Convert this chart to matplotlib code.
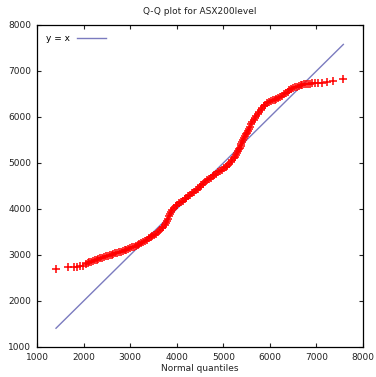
import matplotlib
matplotlib.use("Agg")
import matplotlib.pyplot as plt

# Normal quantiles (x) and sorted ASX200 levels (y)
normal_q = [
    1408, 1673, 1785, 1855, 1925, 1990, 2045, 2090, 2124,
    2160, 2200, 2240, 2280, 2320, 2360, 2400, 2440, 2480, 2520,
    2560, 2600, 2640, 2680, 2720, 2760, 2800, 2840, 2880, 2920,
    2960, 3000, 3040, 3080, 3120, 3160, 3200, 3240, 3280, 3320,
    3360, 3400, 3440, 3480, 3520, 3560, 3600, 3640, 3680, 3710,
    3740, 3765, 3790, 3810, 3830, 3850, 3875, 3905, 3940, 3975,
    4010, 4050, 4090, 4130, 4170, 4210, 4250, 4290, 4330, 4370,
    4410, 4450, 4490, 4530, 4570, 4610, 4650, 4690, 4730, 4770,
    4810, 4850, 4890, 4930, 4970, 5010, 5050, 5090, 5130, 5165,
    5195, 5220, 5245, 5268, 5290, 5310, 5330, 5350, 5370, 5390,
    5410, 5430, 5450, 5470, 5490, 5510, 5530, 5550, 5575, 5600,
    5625, 5650, 5680, 5710, 5740, 5770, 5800, 5835, 5870, 5905,
    5940, 5980, 6020, 6060, 6100, 6140, 6180, 6220, 6260, 6300,
    6340, 6380, 6420, 6460, 6500, 6540, 6580, 6620, 6660, 6700,
    6740, 6780, 6820, 6860, 6905, 6960, 7035, 7120, 7220, 7350,
    7578,
]
asx_level = [
    2696, 2735, 2745, 2748, 2752, 2760, 2800, 2825, 2841,
    2852, 2868, 2882, 2898, 2915, 2930, 2943, 2955, 2968, 2980,
    2995, 3008, 3022, 3035, 3048, 3062, 3075, 3090, 3103, 3117,
    3131, 3146, 3165, 3183, 3200, 3220, 3242, 3265, 3288, 3310,
    3335, 3362, 3390, 3415, 3440, 3465, 3495, 3535, 3580, 3615,
    3645, 3690, 3740, 3790, 3840, 3890, 3940, 3985, 4025, 4060,
    4092, 4120, 4150, 4182, 4215, 4245, 4275, 4306, 4340, 4375,
    4410, 4442, 4478, 4515, 4552, 4588, 4620, 4650, 4680, 4710,
    4740, 4770, 4798, 4825, 4855, 4885, 4915, 4945, 4978, 5015,
    5060, 5100, 5140, 5180, 5220, 5260, 5300, 5335, 5375, 5415,
    5455, 5500, 5540, 5580, 5620, 5660, 5700, 5745, 5790, 5840,
    5890, 5935, 5980, 6025, 6065, 6105, 6150, 6195, 6235, 6270,
    6300, 6322, 6340, 6360, 6378, 6398, 6420, 6442, 6465, 6495,
    6522, 6550, 6580, 6605, 6625, 6642, 6658, 6672, 6685, 6697,
    6707, 6715, 6722, 6728, 6730, 6733, 6740, 6748, 6758, 6783,
    6820,
]
ticks = [1000, 2000, 3000, 4000, 5000, 6000, 7000, 8000]

plt.rcParams['font.family'] = ['DejaVu Sans']
plt.rcParams['font.size'] = 6.5

fig = plt.figure(figsize=(3.76, 3.77), dpi=100)
ax = fig.add_axes([37/376, 1 - 347/377, 326/376, 322/377])

line_x = [normal_q[0], normal_q[-1]]
ax.plot(line_x, line_x, color='#7b7bbf', linewidth=1, label='y = x')
ax.plot(normal_q, asx_level, linestyle='none', marker='+', markersize=5.5,
        markeredgewidth=1.1, color='#ff0000')

ax.set_xlim(1000, 8000)
ax.set_ylim(1000, 8000)
ax.set_xticks(ticks)
ax.set_yticks(ticks)
ax.tick_params(direction='in', length=3, width=0.8, top=True, right=True,
               labelsize=6.5, colors='#222222', pad=4)
for s in ax.spines.values():
    s.set_linewidth(0.9)

ax.set_title('Q-Q plot for ASX200level', fontsize=6.5, pad=8, color='#222222')
ax.set_xlabel('Normal quantiles', fontsize=6.5, labelpad=2, color='#222222')

ax.legend(loc='upper left', frameon=False, fontsize=6.5, markerfirst=False,
          handlelength=3.2, borderaxespad=0.6)

fig.savefig('out.png', dpi=100)
